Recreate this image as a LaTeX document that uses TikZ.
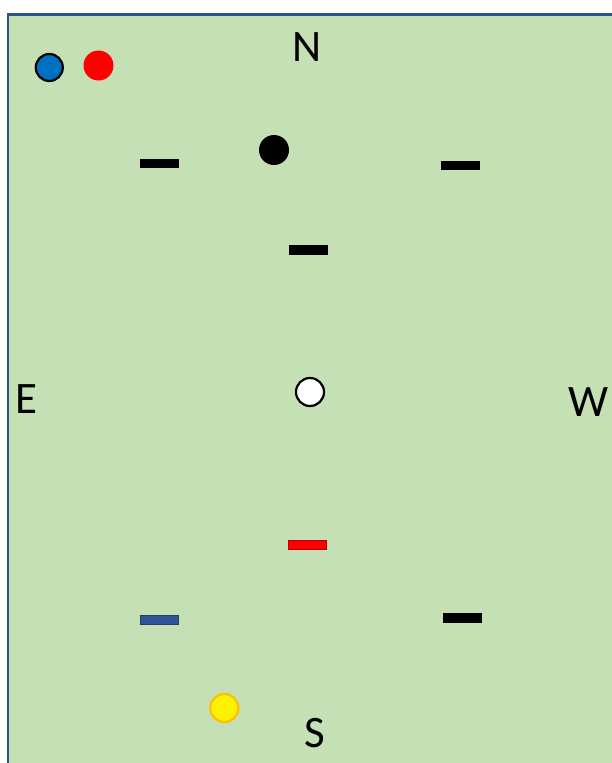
\documentclass[tikz,border=0pt]{standalone}
\usepackage{fontspec}
\setmainfont{Carlito}
\definecolor{fieldgreen}{HTML}{C5E0B4}
\definecolor{frameblue}{HTML}{2F528F}
\definecolor{dotblue}{HTML}{0070C0}
\definecolor{barblue}{HTML}{2F5597}
\definecolor{ringorange}{HTML}{FFC000}
\tikzset{
	bar/.style={rectangle, minimum width=38pt, minimum height=8.5pt, inner sep=0pt, draw=#1!70!black, fill=#1, line width=0.6pt},
	dot/.style={circle, minimum size=29pt, inner sep=0pt, line width=2.2pt},
	side/.style={font=\fontsize{45}{54}\selectfont, inner sep=0pt}
}
\begin{document}
\begin{tikzpicture}[x=1pt, y=-1pt]
	\useasboundingbox (0,0) rectangle (612,763);
	\fill[fieldgreen] (8,14.5) rectangle (612,763);
	\draw[frameblue, line width=2.5pt] (8,763) -- (8,14.5) -- (612,14.5);
	% compass letters
	\node[side] (north) at (307.5,47) {N};
	\node[side] (south) at (314.5,733) {S};
	\node[side] (east) at (26,399) {E};
	\node[side] (west) at (589,402) {W};
	% dots
	\node[dot, draw=black, fill=dotblue, minimum size=27pt] (blue) at (49.3,67.5) {};
	\node[dot, fill=red, minimum size=30pt] (red) at (98.5,65.5) {};
	\node[dot, fill=black, minimum size=30pt] (black) at (274,150) {};
	\node[dot, draw=black, fill=white, minimum size=28pt] (white) at (310,392) {};
	\node[dot, draw=ringorange, fill=yellow, minimum size=28pt] (yellow) at (224.3,708) {};
	% bars
	\node[bar=black] (topleft) at (159,163.5) {};
	\node[bar=black] (topright) at (460,165.5) {};
	\node[bar=black] (middle) at (308.5,250) {};
	\node[bar=red] (lowred) at (307,545) {};
	\node[bar=barblue] (lowblue) at (159,620) {};
	\node[bar=black] (lowright) at (462,618) {};
\end{tikzpicture}
\end{document}
